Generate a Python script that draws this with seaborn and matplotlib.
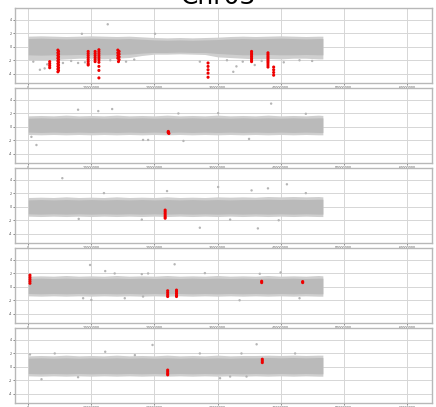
import numpy as np
import pandas as pd
import matplotlib
matplotlib.use("Agg")
import matplotlib.pyplot as plt
import seaborn as sns

# ---------------- data ----------------
chrom = "Chr03"
x_ticks = [0, 10000000, 20000000, 30000000, 40000000, 50000000, 60000000]
y_ticks = [-4, -2, 0, 2, 4]

# band sampling positions (Mb)
band_x = [0, 2, 4, 6, 8, 10, 12, 14, 16, 18, 20, 22, 24, 26, 28, 30, 32, 34, 36, 38, 40, 42, 44, 46, 46.7]

# panel 1
p1_core_hi = [1.2, 1.25, 1.2, 1.15, 1.2, 1.25, 1.2, 1.15, 1.2, 1.1, 1.0, 0.95, 1.0, 0.95, 1.0, 1.05, 1.15, 1.2, 1.15, 1.2, 1.25, 1.2, 1.15, 1.2, 1.2]
p1_core_lo = [-1.2, -1.25, -1.2, -1.2, -1.15, -1.2, -1.2, -1.15, -1.1, -0.95, -0.85, -0.85, -0.8, -0.85, -0.85, -1.0, -1.1, -1.2, -1.2, -1.15, -1.2, -1.2, -1.15, -1.2, -1.2]
p1_fr_hi = [1.55, 1.6, 1.55, 1.5, 1.55, 1.6, 1.55, 1.5, 1.55, 1.45, 1.35, 1.3, 1.35, 1.3, 1.35, 1.4, 1.5, 1.55, 1.5, 1.55, 1.6, 1.55, 1.5, 1.55, 1.55]
p1_fr_lo = [-1.9, -2.0, -1.9, -1.8, -1.7, -1.7, -1.8, -1.7, -1.6, -1.3, -1.1, -1.1, -1.05, -1.1, -1.15, -1.5, -1.6, -1.7, -1.8, -1.75, -1.8, -1.7, -1.7, -1.8, -1.8]

# panel 2
p2_core_hi = [1.25, 1.3, 1.25, 1.3, 1.25, 1.3, 1.25, 1.3, 1.25, 1.3, 1.25, 1.3, 1.25, 1.3, 1.25, 1.3, 1.25, 1.3, 1.25, 1.3, 1.25, 1.3, 1.25, 1.3, 1.3]
p2_core_lo = [-0.8, -0.85, -0.8, -0.85, -0.8, -0.85, -0.8, -0.85, -0.8, -0.85, -0.8, -0.85, -0.8, -0.85, -0.8, -0.85, -0.8, -0.85, -0.8, -0.85, -0.8, -0.85, -0.8, -0.85, -0.85]
p2_fr_hi = [1.6, 1.65, 1.6, 1.7, 1.6, 1.65, 1.6, 1.7, 1.6, 1.65, 1.6, 1.7, 1.6, 1.65, 1.6, 1.7, 1.6, 1.65, 1.6, 1.7, 1.6, 1.65, 1.6, 1.7, 1.65]
p2_fr_lo = [-1.15, -1.2, -1.15, -1.2, -1.15, -1.2, -1.15, -1.2, -1.15, -1.2, -1.15, -1.2, -1.15, -1.2, -1.15, -1.2, -1.15, -1.2, -1.15, -1.2, -1.15, -1.2, -1.15, -1.2, -1.2]

# panel 3
p3_core_hi = [1.0, 1.05, 1.0, 1.05, 1.0, 1.05, 1.0, 1.05, 1.0, 1.05, 1.0, 1.05, 1.0, 1.05, 1.0, 1.05, 1.0, 1.05, 1.05, 1.1, 1.05, 1.1, 1.05, 1.1, 1.1]
p3_core_lo = [-1.05, -1.1, -1.05, -1.1, -1.05, -1.1, -1.05, -1.1, -1.05, -1.1, -1.05, -1.1, -1.05, -1.1, -1.05, -1.1, -1.05, -1.1, -1.05, -1.1, -1.05, -1.1, -1.05, -1.1, -1.1]
p3_fr_hi = [1.35, 1.4, 1.35, 1.45, 1.35, 1.4, 1.35, 1.45, 1.35, 1.4, 1.35, 1.45, 1.35, 1.4, 1.35, 1.45, 1.4, 1.45, 1.4, 1.5, 1.45, 1.5, 1.45, 1.5, 1.45]
p3_fr_lo = [-1.4, -1.45, -1.4, -1.45, -1.4, -1.45, -1.4, -1.45, -1.4, -1.45, -1.4, -1.45, -1.4, -1.45, -1.4, -1.45, -1.4, -1.45, -1.4, -1.45, -1.4, -1.45, -1.4, -1.45, -1.45]

# panel 4
p4_core_hi = [1.2, 1.25, 1.2, 1.25, 1.2, 1.25, 1.2, 1.25, 1.2, 1.25, 1.2, 1.25, 1.2, 1.25, 1.2, 1.25, 1.2, 1.25, 1.2, 1.25, 1.2, 1.25, 1.2, 1.25, 1.25]
p4_core_lo = [-1.0, -1.05, -1.0, -1.05, -1.0, -1.05, -1.0, -1.05, -1.0, -1.05, -1.0, -1.05, -1.0, -1.05, -1.0, -1.05, -1.0, -1.05, -1.0, -1.05, -1.0, -1.05, -1.0, -1.05, -1.05]
p4_fr_hi = [1.55, 1.6, 1.55, 1.65, 1.55, 1.6, 1.55, 1.65, 1.55, 1.6, 1.55, 1.65, 1.55, 1.6, 1.55, 1.65, 1.55, 1.6, 1.55, 1.65, 1.55, 1.6, 1.55, 1.65, 1.6]
p4_fr_lo = [-1.35, -1.4, -1.35, -1.4, -1.35, -1.4, -1.35, -1.4, -1.35, -1.4, -1.35, -1.4, -1.35, -1.4, -1.35, -1.4, -1.35, -1.4, -1.35, -1.4, -1.35, -1.4, -1.35, -1.4, -1.4]

# panel 5
p5_core_hi = [1.25, 1.3, 1.25, 1.3, 1.25, 1.3, 1.25, 1.3, 1.25, 1.3, 1.25, 1.3, 1.25, 1.3, 1.25, 1.3, 1.25, 1.3, 1.3, 1.35, 1.3, 1.35, 1.3, 1.35, 1.35]
p5_core_lo = [-1.0, -1.05, -1.0, -1.05, -1.0, -1.05, -1.0, -1.05, -1.0, -1.05, -1.0, -1.05, -1.0, -1.05, -1.0, -1.05, -1.0, -1.05, -1.0, -1.05, -1.0, -1.05, -1.0, -1.05, -1.05]
p5_fr_hi = [1.6, 1.65, 1.6, 1.7, 1.6, 1.65, 1.6, 1.7, 1.6, 1.65, 1.6, 1.7, 1.6, 1.65, 1.6, 1.7, 1.6, 1.65, 1.65, 1.7, 1.65, 1.7, 1.65, 1.7, 1.7]
p5_fr_lo = [-1.35, -1.4, -1.35, -1.4, -1.35, -1.4, -1.35, -1.4, -1.35, -1.4, -1.35, -1.4, -1.35, -1.4, -1.35, -1.4, -1.35, -1.4, -1.35, -1.4, -1.35, -1.4, -1.35, -1.4, -1.4]

# scattered grey points outside the band (Mb, value)
p1_out_x = [12.6, 20.1, 1.85, 2.6, 7.9, 32.5, 33.0, 35.9, 27.2, 0.8, 5.5, 6.8, 9.0, 13.0, 15.5, 16.8, 31.5, 34.0, 37.0, 40.5, 43.0, 45.0, 3.0, 8.5]
p1_out_y = [3.3, 1.9, -3.4, -3.2, -2.4, -3.7, -2.9, -2.7, -2.2, -2.2, -2.4, -2.1, -2.3, -2.0, -2.2, -1.9, -2.0, -2.2, -2.1, -2.3, -2.0, -2.1, -2.6, 1.9]
p2_out_x = [7.9, 11.1, 13.3, 23.8, 18.2, 19.0, 24.6, 0.5, 1.3, 30.1, 38.5, 44.0, 35.0]
p2_out_y = [2.5, 2.3, 2.6, 1.95, -1.95, -1.95, -2.1, -1.5, -2.7, 2.0, 3.4, 1.9, -1.8]
p3_out_x = [30.1, 35.4, 38.0, 41.0, 36.4, 39.7, 27.2, 5.4, 12.0, 18.0, 22.0, 8.0, 44.0, 32.0]
p3_out_y = [2.9, 2.4, 2.7, 3.3, -3.2, -2.0, -3.1, 4.2, 2.0, -1.9, 2.3, -1.8, 2.0, -1.9]
p4_out_x = [9.8, 23.2, 12.2, 13.7, 18.0, 19.0, 8.7, 10.0, 15.3, 18.2, 36.7, 43.0, 33.5, 28.0, 40.0]
p4_out_y = [3.2, 3.3, 2.3, 1.95, 1.85, 1.95, -1.7, -1.95, -1.7, -1.45, 1.9, -1.7, -2.0, 2.0, 2.1]
p5_out_x = [19.7, 36.2, 0.27, 4.2, 12.2, 16.9, 27.2, 33.8, 42.3, 2.1, 7.9, 30.4, 32.0, 34.6]
p5_out_y = [3.2, 3.3, 1.8, 1.95, 2.2, 1.7, 1.95, 1.95, 1.95, -1.85, -1.55, -1.7, -1.45, -1.45]

# red (called) points (Mb, value)
p1_red_x = [3.4, 3.4, 3.4, 3.4,
            4.7, 4.8, 4.7, 4.8, 4.7, 4.8, 4.7, 4.8, 4.7, 4.8, 4.7, 4.8, 4.7, 4.8, 4.7, 4.8, 4.7,
            9.5, 9.5, 9.5, 9.5, 9.5, 9.5, 9.5, 9.5,
            10.6, 10.6, 10.6, 10.6, 10.6, 10.6,
            11.2, 11.2, 11.2, 11.2, 11.2, 11.2, 11.2, 11.2, 11.2, 11.2,
            14.2, 14.4, 14.2, 14.4, 14.2, 14.4, 14.2, 14.4, 14.3,
            28.5, 28.5, 28.5, 28.5, 28.5,
            35.4, 35.4, 35.4, 35.4, 35.4, 35.4, 35.4,
            38.0, 38.0, 38.0, 38.0, 38.0, 38.0, 38.0, 38.0, 38.0,
            38.9, 38.9, 38.9, 38.9]
p1_red_y = [-2.2, -2.5, -2.8, -3.1,
            -0.5, -0.7, -0.9, -1.1, -1.3, -1.5, -1.7, -1.9, -2.1, -2.3, -2.5, -2.7, -2.9, -3.1, -3.3, -3.5, -3.7,
            -0.7, -1.0, -1.3, -1.6, -1.9, -2.2, -2.5, -2.7,
            -0.7, -1.0, -1.3, -1.6, -1.9, -2.2,
            -0.45, -0.75, -1.05, -1.35, -1.65, -1.95, -2.3, -2.9, -3.5, -4.6,
            -0.5, -0.7, -0.9, -1.1, -1.3, -1.5, -1.7, -1.9, -2.2,
            -2.4, -2.9, -3.4, -3.9, -4.5,
            -0.7, -0.95, -1.2, -1.45, -1.7, -1.95, -2.2,
            -0.9, -1.15, -1.4, -1.65, -1.9, -2.15, -2.4, -2.7, -3.0,
            -3.0, -3.4, -3.8, -4.2]
p2_red_x = [22.2, 22.2, 22.2, 22.3]
p2_red_y = [-0.7, -0.8, -0.9, -1.0]
p3_red_x = [21.7, 21.7, 21.7, 21.7, 21.7, 21.7]
p3_red_y = [-0.5, -0.75, -1.0, -1.25, -1.5, -1.7]
p4_red_x = [0.27, 0.27, 0.27, 0.27, 0.27, 22.1, 22.1, 22.1, 22.1, 23.5, 23.5, 23.5, 23.5, 23.5, 37.0, 37.0, 43.5, 43.5]
p4_red_y = [1.7, 1.4, 1.1, 0.8, 0.5, -0.6, -0.9, -1.2, -1.45, -0.5, -0.75, -1.0, -1.25, -1.45, 0.8, 0.6, 0.75, 0.6]
p5_red_x = [22.1, 22.1, 22.1, 22.1, 37.1, 37.1, 37.1]
p5_red_y = [-0.5, -0.75, -1.0, -1.2, 1.1, 0.85, 0.6]

panels = [
    (p1_core_hi, p1_core_lo, p1_fr_hi, p1_fr_lo, p1_out_x, p1_out_y, p1_red_x, p1_red_y),
    (p2_core_hi, p2_core_lo, p2_fr_hi, p2_fr_lo, p2_out_x, p2_out_y, p2_red_x, p2_red_y),
    (p3_core_hi, p3_core_lo, p3_fr_hi, p3_fr_lo, p3_out_x, p3_out_y, p3_red_x, p3_red_y),
    (p4_core_hi, p4_core_lo, p4_fr_hi, p4_fr_lo, p4_out_x, p4_out_y, p4_red_x, p4_red_y),
    (p5_core_hi, p5_core_lo, p5_fr_hi, p5_fr_lo, p5_out_x, p5_out_y, p5_red_x, p5_red_y),
]

# ---------------- drawing ----------------
sns.set_style("whitegrid")
W, H = 436, 407
fig = plt.figure(figsize=(W / 100, H / 100), dpi=100)

panel_px = [(8, 83), (88, 163), (168, 243), (248, 323), (328, 403)]
left_px, right_px = 15, 432

bx = np.array(band_x) * 1e6
for (top, bot), (chi, clo, fhi, flo, ox, oy, rx, ry) in zip(panel_px, panels):
    ax = fig.add_axes([left_px / W, 1 - bot / H, (right_px - left_px) / W, (bot - top) / H])
    ax.fill_between(bx, flo, fhi, color="#cfcfcf", lw=0, zorder=2)
    ax.fill_between(bx, clo, chi, color="#bababa", lw=0, zorder=2)
    od = pd.DataFrame({"pos": np.array(ox) * 1e6, "val": oy})
    sns.scatterplot(data=od, x="pos", y="val", ax=ax, color="#b5b5b5", s=3,
                    edgecolor="none", linewidth=0, zorder=3)
    rd = pd.DataFrame({"pos": np.array(rx) * 1e6, "val": ry})
    sns.scatterplot(data=rd, x="pos", y="val", ax=ax, color="#ee0000", s=5,
                    edgecolor="none", linewidth=0, zorder=4)
    ax.set_xlim(-2.1e6, 64.0e6)
    ax.set_ylim(-5.35, 5.7)
    ax.set_xticks(x_ticks)
    ax.set_xticklabels([str(v) for v in x_ticks])
    ax.set_yticks(y_ticks)
    ax.set_yticklabels([str(v) for v in y_ticks])
    ax.set_xlabel("")
    ax.set_ylabel("")
    ax.grid(True, color="#d6d6d6", lw=0.7)
    ax.tick_params(axis="both", labelsize=2.4, length=1.5, width=0.5, pad=0.6,
                   colors="#555555", bottom=True, left=True)
    for sp in ax.spines.values():
        sp.set_color("#b8b8b8")
        sp.set_linewidth(1.0)

fig.text(0.5, 1 - 4 / H, chrom, ha="center", va="baseline", fontsize=18, color="black")

fig.savefig("out.png", dpi=100)
